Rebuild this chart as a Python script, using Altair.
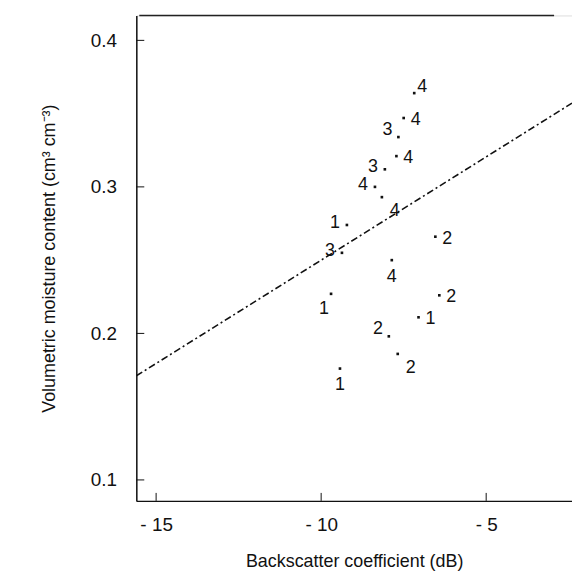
import altair as alt
import pandas as pd

# Data
backscatter = [-7.18, -7.50, -7.66, -7.72, -8.07, -8.37, -8.16, -9.22, -6.54,
               -9.37, -7.86, -9.70, -6.42, -7.05, -7.95, -7.68, -9.43]
moisture = [0.364, 0.347, 0.334, 0.321, 0.312, 0.300, 0.293, 0.274, 0.266,
            0.255, 0.250, 0.227, 0.226, 0.211, 0.198, 0.186, 0.176]
group = ["4", "4", "3", "4", "3", "4", "4", "1", "2",
         "3", "4", "1", "2", "1", "2", "2", "1"]
placement = ["ur", "r", "ul", "r", "l", "l", "br", "l", "r",
             "l", "b", "bl", "r", "r", "ul", "br", "b"]

fit_slope = 0.0141
fit_intercept = 0.391

x_ticks = [-15, -10, -5]
y_ticks = [0.1, 0.2, 0.3, 0.4]

x_domain = [-15.6, -2.4]
y_domain = [0.0857, 0.417]

pts = pd.DataFrame({"x": backscatter, "y": moisture, "g": group, "p": placement})
fit = pd.DataFrame({"x": x_domain,
                    "y": [fit_intercept + fit_slope * v for v in x_domain]})

xs = alt.Scale(domain=x_domain, nice=False, zero=False)
ys = alt.Scale(domain=y_domain, nice=False, zero=False)

X = alt.X("x:Q", scale=xs,
          axis=alt.Axis(values=x_ticks, ticks=False, grid=False,
                        labelExpr="'- ' + abs(datum.value)",
                        labelFontSize=19, labelPadding=15,
                        title="Backscatter coefficient (dB)",
                        titleFontSize=18, titleFontWeight="normal",
                        titlePadding=18, domainColor="#111", domainWidth=1.5,
                        labelColor="#111", titleColor="#111",
                        labelFont="Liberation Sans", titleFont="Liberation Sans"))
Y = alt.Y("y:Q", scale=ys,
          axis=alt.Axis(values=y_ticks, ticks=False, grid=False,
                        format=".1f", labelFontSize=19, labelPadding=20,
                        title="Volumetric moisture content (cm³ cm⁻³)",
                        titleFontSize=18, titleFontWeight="normal",
                        titlePadding=32, domainColor="#111", domainWidth=1.5,
                        labelColor="#111", titleColor="#111",
                        labelFont="Liberation Sans", titleFont="Liberation Sans"))

line = alt.Chart(fit).mark_line(color="#111", strokeWidth=1.6,
                                strokeDash=[7, 3, 2, 3], clip=True).encode(x=X, y=Y)

dots = alt.Chart(pts).mark_square(color="#111", size=7, opacity=1).encode(
    x=alt.X("x:Q", scale=xs), y=alt.Y("y:Q", scale=ys))

offsets = {"r": (12, 2), "ur": (8, -6), "l": (-12, -2), "ul": (-11, -7),
           "b": (0, 17), "br": (13, 14), "bl": (-7, 15)}
texts = []
for key, (dx, dy) in offsets.items():
    texts.append(
        alt.Chart(pts).transform_filter(alt.datum.p == key).mark_text(
            dx=dx, dy=dy, fontSize=18, color="#111", font="Liberation Sans",
            align="center", baseline="middle").encode(
            x=alt.X("x:Q", scale=xs), y=alt.Y("y:Q", scale=ys), text="g:N"))

tick_df_y = pd.DataFrame({"y": y_ticks})
yticks = alt.Chart(tick_df_y).mark_rule(color="#111", strokeWidth=1).encode(
    y=alt.Y("y:Q", scale=ys), x=alt.value(0), x2=alt.value(8))
tick_df_x = pd.DataFrame({"x": x_ticks})
xticks = alt.Chart(tick_df_x).mark_rule(color="#111", strokeWidth=1).encode(
    x=alt.X("x:Q", scale=xs), y=alt.value(488), y2=alt.value(480))

top = alt.Chart(pd.DataFrame({"a": [0]})).mark_rule(color="#222", strokeWidth=1.5).encode(
    y=alt.value(0), x=alt.value(3), x2=alt.value(420))

chart = alt.layer(line, dots, *texts, yticks, xticks, top).properties(
    width=438, height=488, padding={"left": 32, "top": 5, "right": 0, "bottom": 0}
).configure_view(stroke=None).configure(background="white")

chart.save("out.html", embed_options={"renderer": "svg", "actions": False})
